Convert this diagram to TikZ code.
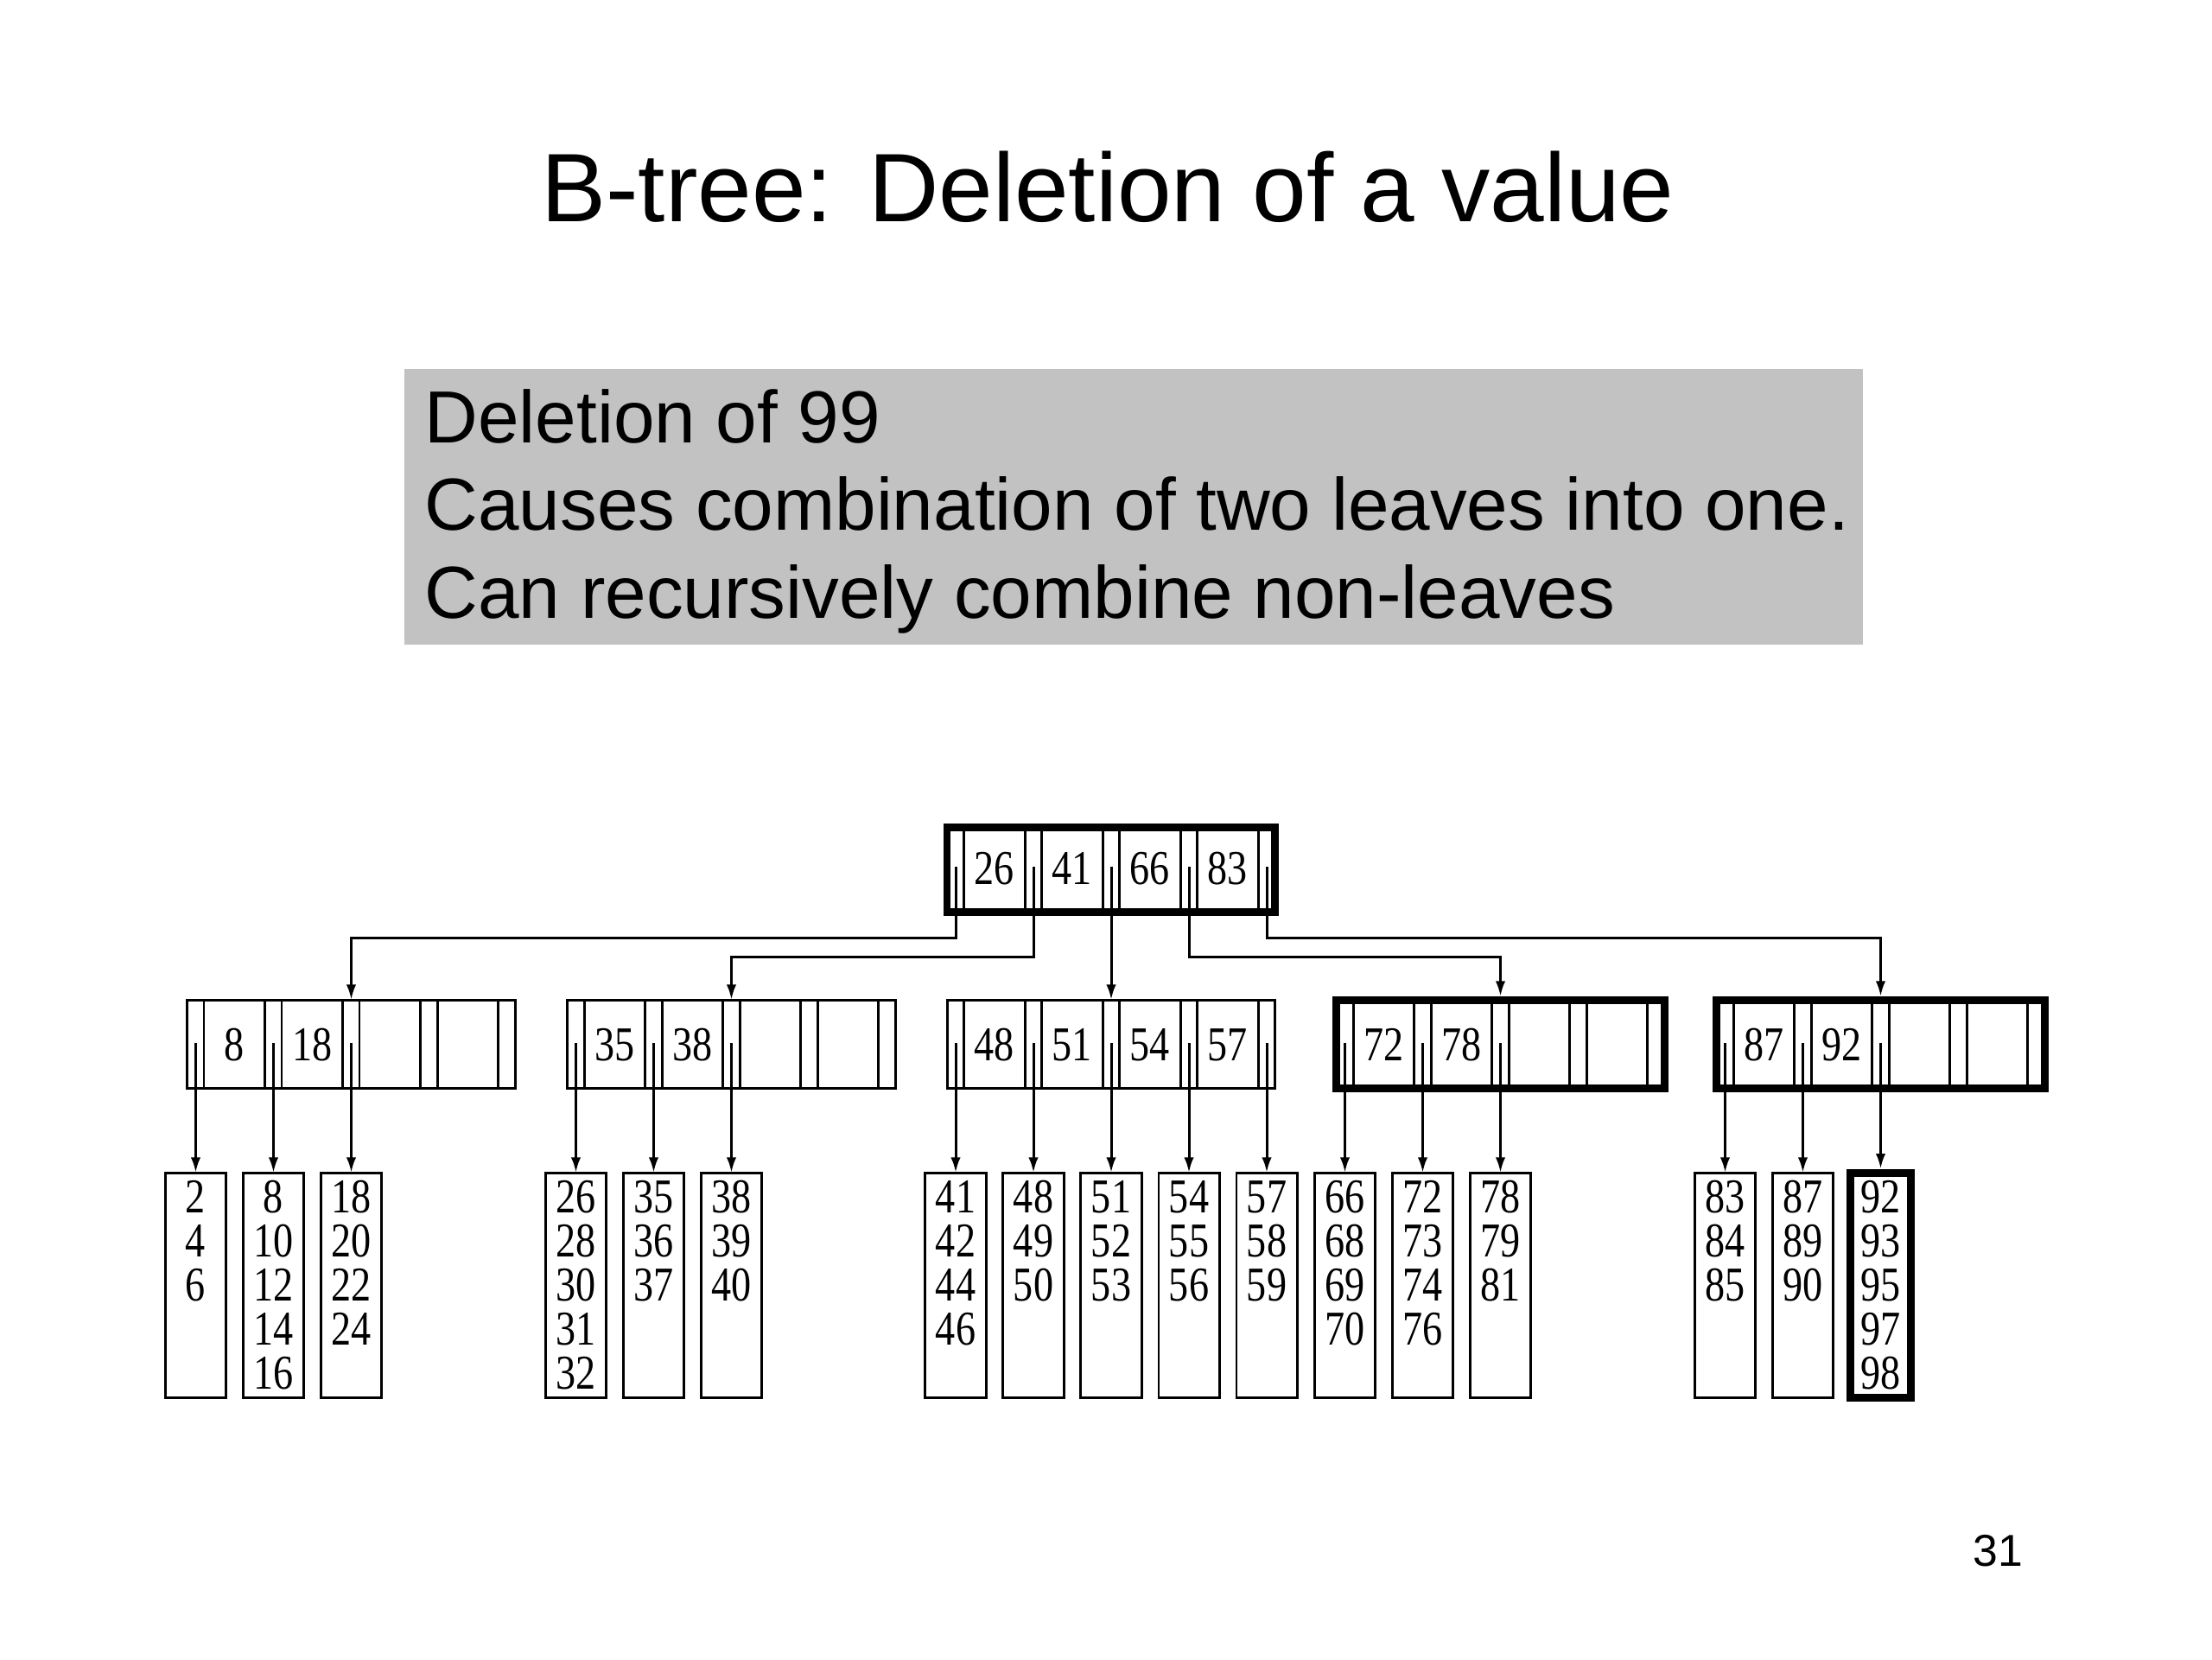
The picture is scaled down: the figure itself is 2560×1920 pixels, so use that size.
\documentclass[tikz,border=0pt]{standalone}
\usepackage{fontspec}
\setmainfont{Liberation Sans}
\newfontfamily\numfont[FakeStretch=0.82]{Liberation Serif}
\usetikzlibrary{arrows.meta,calc}
\definecolor{boxgray}{RGB}{194,194,194}
\tikzset{
  thinln/.style={line width=0.85pt},
  thickln/.style={line width=2.55pt},
  inode/.style={draw, rectangle, inner sep=0pt, outer sep=0pt, minimum width=3.795cm, minimum height=1.02cm, anchor=north west, thinln},
  inodethick/.style={inode, thickln},
  rnode/.style={inode, minimum height=0.98cm, thickln},
  leafbox/.style={draw, rectangle, inner sep=0pt, outer sep=0pt, minimum width=0.70cm, minimum height=2.60cm, anchor=north, thinln},
  leafthick/.style={leafbox, thickln},
  num/.style={font=\numfont\fontsize{16pt}{16pt}\selectfont, inner sep=0pt, anchor=base},
  conn/.style={thinln, -{Latex[length=5pt,width=3.2pt]}},
  connthick/.style={conn, shorten >=1.25pt},
}
% #1 name, #2 x, #3 y, #4 style, #5 keys, #6 key baseline offset, #7 pointer start offset
\newcommand\drawbnode[7]{%
  \node[#4] (#1) at (#2,#3) {};
  \foreach \d in {19.5,90,109.5,180,199.5,270,289.5,360}
    \draw[thinln] ($(#1.north west)+(\d,0)$) -- ($(#1.south west)+(\d,0)$);
  \foreach \k [count=\i from 0] in {#5} {
    \node[num] (#1-k\i) at ($(#1.north west)+(90*\i+54.75,#6)$) {\k};
  }
  \foreach \i in {0,...,4} {
    \coordinate (#1-p\i) at ($(#1.north west)+(90*\i+10,#7)$);
  }
}
% #1 name, #2 parent pointer, #3 style, #4 values, #5 connector style
\newcommand\drawleaf[5]{%
  \node[#3] (#1) at (#2 |- leaftop) {};
  \foreach \v [count=\j from 0] in {#4} {
    \node[num] (#1-v\j) at ($(#1.north)+(0,46+51*\j)$) {\v};
  }
  \draw[#5] (#2) -- (#1.north);
}
\begin{document}
\begin{tikzpicture}[x=0.01cm, y=-0.01cm]
\fill[white] (0,0) rectangle (2560,1920);
\useasboundingbox (0,0) rectangle (2560,1920);

% title
\node[anchor=base, inner sep=0pt, font=\fontsize{32pt}{38pt}\selectfont] (title) at (1282,256) {B-tree: Deletion of a value};

% grey box
\node[fill=boxgray, inner sep=0pt, outer sep=0pt, minimum width=16.87cm, minimum height=3.19cm, anchor=north west] (note) at (468,427) {};
\node[anchor=base west, inner sep=0pt, font=\fontsize{24.3pt}{29pt}\selectfont] (line1) at (491,512) {Deletion of 99};
\node[anchor=base west, inner sep=0pt, font=\fontsize{24.3pt}{29pt}\selectfont] (line2) at (491,613) {Causes combination of two leaves into one.};
\node[anchor=base west, inner sep=0pt, font=\fontsize{24.3pt}{29pt}\selectfont] (line3) at (491,715) {Can recursively combine non-leaves};

% page number
\node[anchor=base, inner sep=0pt, font=\fontsize{14.7pt}{17pt}\selectfont] (page) at (2312,1812) {31};

% helper levels
\coordinate (leaftop) at (0,1357);
\coordinate (hA) at (0,1085);
\coordinate (hB) at (0,1107);

% root
\drawbnode{r}{1096}{957.5}{rnode}{26,41,66,83}{65.5}{45.5}

% internal nodes
\drawbnode{n1}{216.5}{1157}{inode}{8,18}{70}{50}
\drawbnode{n2}{656.5}{1157}{inode}{35,38}{70}{50}
\drawbnode{n3}{1096}{1157}{inode}{48,51,54,57}{70}{50}
\drawbnode{n4}{1546.5}{1157}{inodethick}{72,78}{70}{50}
\drawbnode{n5}{1986.5}{1157}{inodethick}{87,92}{70}{50}

% entry points on internal nodes
\coordinate (n1in) at ($(n1.north west)+(190,0)$);
\coordinate (n2in) at ($(n2.north west)+(190,0)$);
\coordinate (n3in) at ($(n3.north west)+(190,0)$);
\coordinate (n4in) at ($(n4.north west)+(190,-4)$);
\coordinate (n5in) at ($(n5.north west)+(190,-4)$);

% root connectors
\draw[conn] (r-p0) -- (r-p0 |- hA) -| (n1in);
\draw[conn] (r-p1) -- (r-p1 |- hB) -| (n2in);
\draw[conn] (r-p2) -- (r-p2 |- n3in);
\draw[conn] (r-p3) -- (r-p3 |- hB) -| (n4in);
\draw[conn] (r-p4) -- (r-p4 |- hA) -| (n5in);

% leaves
\drawleaf{L1}{n1-p0}{leafbox}{2,4,6}{conn}
\drawleaf{L2}{n1-p1}{leafbox}{8,10,12,14,16}{conn}
\drawleaf{L3}{n1-p2}{leafbox}{18,20,22,24}{conn}

\drawleaf{L4}{n2-p0}{leafbox}{26,28,30,31,32}{conn}
\drawleaf{L5}{n2-p1}{leafbox}{35,36,37}{conn}
\drawleaf{L6}{n2-p2}{leafbox}{38,39,40}{conn}

\drawleaf{L7}{n3-p0}{leafbox}{41,42,44,46}{conn}
\drawleaf{L8}{n3-p1}{leafbox}{48,49,50}{conn}
\drawleaf{L9}{n3-p2}{leafbox}{51,52,53}{conn}
\drawleaf{L10}{n3-p3}{leafbox}{54,55,56}{conn}
\drawleaf{L11}{n3-p4}{leafbox}{57,58,59}{conn}

\drawleaf{L12}{n4-p0}{leafbox}{66,68,69,70}{conn}
\drawleaf{L13}{n4-p1}{leafbox}{72,73,74,76}{conn}
\drawleaf{L14}{n4-p2}{leafbox}{78,79,81}{conn}

\drawleaf{L15}{n5-p0}{leafbox}{83,84,85}{conn}
\drawleaf{L16}{n5-p1}{leafbox}{87,89,90}{conn}
\drawleaf{L17}{n5-p2}{leafthick}{92,93,95,97,98}{connthick}
\end{tikzpicture}
\end{document}
